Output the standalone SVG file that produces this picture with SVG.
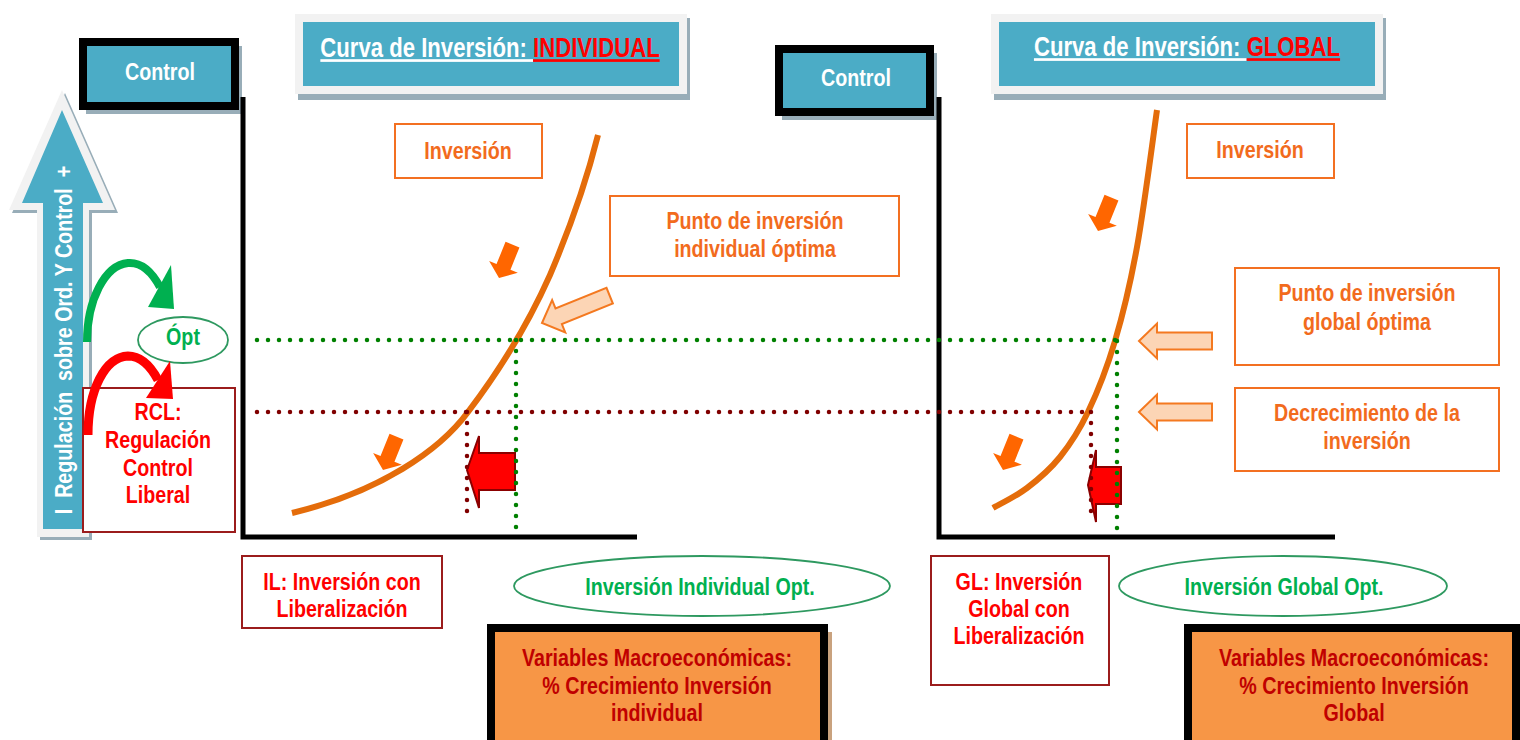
<svg xmlns="http://www.w3.org/2000/svg" width="1520" height="740" viewBox="0 0 1520 740">
<defs>
<style>
.t{font-family:"Liberation Sans",Arial,sans-serif;font-weight:bold;font-size:24px;text-anchor:middle}
.tt{font-size:27px}
.w{fill:#ffffff}
.o{fill:#F26B1D}
.r{fill:#FF0000}
.g{fill:#00B050}
.dr{fill:#C00000}
.ob{fill:#ffffff;stroke:#F37021;stroke-width:2}
.rb{fill:#ffffff;stroke:#9B1C1C;stroke-width:2}
.el{fill:#ffffff;stroke:#2E9960;stroke-width:1.8}
.ctl{fill:#4BACC6;stroke:#000000;stroke-width:8}
.sh{fill:#98ADB8}
.grey{fill:#F2F2F2}
.teal{fill:#4BACC6}
.axis{stroke:#000000;stroke-width:5;fill:none}
.curve{stroke:#E46C0A;stroke-width:6;fill:none}
.dg{stroke:#008000;stroke-width:4.5;stroke-linecap:round;stroke-dasharray:0 11;fill:none}
.db{stroke:#800000;stroke-width:4.5;stroke-linecap:round;stroke-dasharray:0 11;fill:none}
.pale{fill:#FCD5B5;stroke:#F47920;stroke-width:2}
.sa{fill:#FF6600}
.ra{fill:#FF0000;stroke:#8B0000;stroke-width:2}
.mac{fill:#F79646;stroke:#000000;stroke-width:8}
.garc{fill:none;stroke:#00B050;stroke-width:8}
.rarc{fill:none;stroke:#FF0000;stroke-width:9}
</style>
<path id="pa" d="M0,0 L18,-17.5 L18,-8.5 L73,-8.5 L73,8.5 L18,8.5 L18,17.5 Z"/>
<path id="sa" d="M0,0 L-15.5,-12 L-7.5,-12 L-7.5,-36 L7.5,-36 L7.5,-12 L15.5,-12 Z"/>
</defs>
<rect width="1520" height="740" fill="#ffffff"/>

<g id="axis-arrow">
<polygon class="sh" points="65,93 118,213 92,213 92,540 40,540 40,213 12,213"/>
<polygon class="grey" points="62,90 115,210 89,210 89,537 37,537 37,210 9,210"/>
<polygon class="teal" points="62,110 103,203 83,203 83,529 43,529 43,203 22,203"/>
<text class="t w" transform="translate(72,340) rotate(-90) scale(0.82,1)" xml:space="preserve">I  Regulación  sobre Ord. Y Control  +</text>
</g>

<g id="control-left">
<rect class="sh" x="86" y="46" width="156" height="68"/>
<rect class="ctl" x="83" y="42" width="152" height="64"/>
<text class="t w" transform="matrix(.82 0 0 1 160 80)">Control</text>
</g>

<g id="title-left">
<rect class="sh" x="298" y="18" width="392" height="82"/>
<rect class="grey" x="295" y="14" width="392" height="80"/>
<rect class="teal" x="303" y="22" width="376" height="64"/>
<text class="t tt" transform="matrix(.82 0 0 1 490 57)"><tspan class="w" text-decoration="underline">Curva de Inversión: </tspan><tspan class="r" text-decoration="underline">INDIVIDUAL</tspan></text>
</g>

<g id="control-right">
<rect class="sh" x="782" y="53" width="155" height="67"/>
<rect class="ctl" x="779" y="49" width="151" height="63"/>
<text class="t w" transform="matrix(.82 0 0 1 856 86)">Control</text>
</g>

<g id="title-right">
<rect class="sh" x="994" y="18" width="392" height="82"/>
<rect class="grey" x="991" y="14" width="392" height="80"/>
<rect class="teal" x="999" y="22" width="376" height="64"/>
<text class="t tt" transform="matrix(.82 0 0 1 1187 56)"><tspan class="w" text-decoration="underline">Curva de Inversión: </tspan><tspan class="r" text-decoration="underline">GLOBAL</tspan></text>
</g>

<g id="axes">
<path class="axis" d="M243,97 V537 H637"/>
<path class="axis" d="M939,97 V537 H1335"/>
</g>

<g id="connectors">
<path class="curve" d="M292,513 C380,492 440,450 468,412 C500,370 530,320 550,275 C570,228 588,175 598,135"/>
<path class="curve" d="M993,508 C998.7,504.7 1015.8,496.5 1027,488 C1038.2,479.5 1049.8,469.7 1060,457 C1070.2,444.3 1078.8,431.3 1088,412 C1097.2,392.7 1106.8,368.5 1115,341 C1123.2,313.5 1130,285.5 1137,247 C1144,208.5 1153.7,132.8 1157,110"/>
<polygon class="ra" points="467,470 479,436 479,453 515,453 515,490 479,490 479,508"/>
<polygon class="ra" points="1088,485 1096,450 1096,467 1121,467 1121,504 1096,504 1096,522"/>
<path class="dg" d="M257,340 H1117"/>
<path class="dg" d="M516,340 V528"/>
<path class="dg" d="M1117,341 V530"/>
<path class="db" d="M257,412 H1091"/>
<path class="db" d="M467,412 V522"/>
<path class="db" d="M1091,412 V522"/>
<use href="#pa" class="pale" transform="translate(542,323) rotate(-22)"/>
<use href="#pa" class="pale" transform="translate(1139,341)"/>
<use href="#pa" class="pale" transform="translate(1139,412)"/>
<use href="#sa" class="sa" transform="translate(499,278) rotate(22)"/>
<use href="#sa" class="sa" transform="translate(383,470) rotate(22)"/>
<use href="#sa" class="sa" transform="translate(1098,231) rotate(22)"/>
<use href="#sa" class="sa" transform="translate(1003,470) rotate(22)"/>
<path class="garc" d="M87,342 C87,300 105,265 128,263 C141,262 152,272 160,287"/>
<polygon fill="#00B050" points="148,307 171,265 174,309"/>
</g>

<g id="opt">
<ellipse class="el" cx="183" cy="340" rx="45" ry="23"/>
<text class="t g" transform="matrix(.82 0 0 1 183 345)">Ópt</text>
</g>

<g id="rcl">
<rect class="rb" x="83" y="388" width="152" height="144"/>
<text class="t r" transform="matrix(.82 0 0 1 158 420)">RCL:</text>
<text class="t r" transform="matrix(.82 0 0 1 158 448)">Regulación</text>
<text class="t r" transform="matrix(.82 0 0 1 158 476)">Control</text>
<text class="t r" transform="matrix(.82 0 0 1 158 503)">Liberal</text>
</g>

<g id="red-arc">
<path class="rarc" d="M88,435 C88,390 105,357 128,356 C141,356 150,365 158,380"/>
<polygon fill="#FF0000" points="146,398 170,361 173,399"/>
</g>

<g id="inv-left">
<rect class="ob" x="395" y="124" width="147" height="54"/>
<text class="t o" transform="matrix(.82 0 0 1 468 159)">Inversión</text>
</g>
<g id="punto-individual">
<rect class="ob" x="610" y="196" width="289" height="80"/>
<text class="t o" transform="matrix(.82 0 0 1 755 229)">Punto de inversión</text>
<text class="t o" transform="matrix(.82 0 0 1 755 257)">individual óptima</text>
</g>
<g id="inv-right">
<rect class="ob" x="1187" y="124" width="147" height="54"/>
<text class="t o" transform="matrix(.82 0 0 1 1260 158)">Inversión</text>
</g>
<g id="punto-global">
<rect class="ob" x="1235" y="268" width="264" height="97"/>
<text class="t o" transform="matrix(.82 0 0 1 1367 301)">Punto de inversión</text>
<text class="t o" transform="matrix(.82 0 0 1 1367 330)">global óptima</text>
</g>
<g id="decrecimiento">
<rect class="ob" x="1235" y="388" width="264" height="83"/>
<text class="t o" transform="matrix(.82 0 0 1 1367 421)">Decrecimiento de la</text>
<text class="t o" transform="matrix(.82 0 0 1 1367 449)">inversión</text>
</g>

<g id="il">
<rect class="rb" x="242" y="556" width="200" height="72"/>
<text class="t r" transform="matrix(.82 0 0 1 342 590)">IL: Inversión con</text>
<text class="t r" transform="matrix(.82 0 0 1 342 617)">Liberalización</text>
</g>
<g id="opt-individual">
<ellipse class="el" cx="702" cy="586" rx="188" ry="30"/>
<text class="t g" transform="matrix(.82 0 0 1 700 595)">Inversión Individual Opt.</text>
</g>
<g id="macro-left">
<rect x="495" y="632" width="337" height="130" fill="#C9A27E"/>
<rect class="mac" x="491" y="628" width="333" height="130"/>
<text class="t dr" transform="matrix(.82 0 0 1 657 666)">Variables Macroeconómicas:</text>
<text class="t dr" transform="matrix(.82 0 0 1 657 694)">% Crecimiento Inversión</text>
<text class="t dr" transform="matrix(.82 0 0 1 657 721)">individual</text>
</g>
<g id="gl">
<rect class="rb" x="931" y="556" width="178" height="129"/>
<text class="t r" transform="matrix(.82 0 0 1 1019 590)">GL: Inversión</text>
<text class="t r" transform="matrix(.82 0 0 1 1019 617)">Global con</text>
<text class="t r" transform="matrix(.82 0 0 1 1019 644)">Liberalización</text>
</g>
<g id="opt-global">
<ellipse class="el" cx="1283" cy="586" rx="164" ry="30"/>
<text class="t g" transform="matrix(.82 0 0 1 1284 595)">Inversión Global Opt.</text>
</g>
<g id="macro-right">
<rect class="mac" x="1188" y="628" width="328" height="130"/>
<text class="t dr" transform="matrix(.82 0 0 1 1354 666)">Variables Macroeconómicas:</text>
<text class="t dr" transform="matrix(.82 0 0 1 1354 694)">% Crecimiento Inversión</text>
<text class="t dr" transform="matrix(.82 0 0 1 1354 721)">Global</text>
</g>
</svg>
